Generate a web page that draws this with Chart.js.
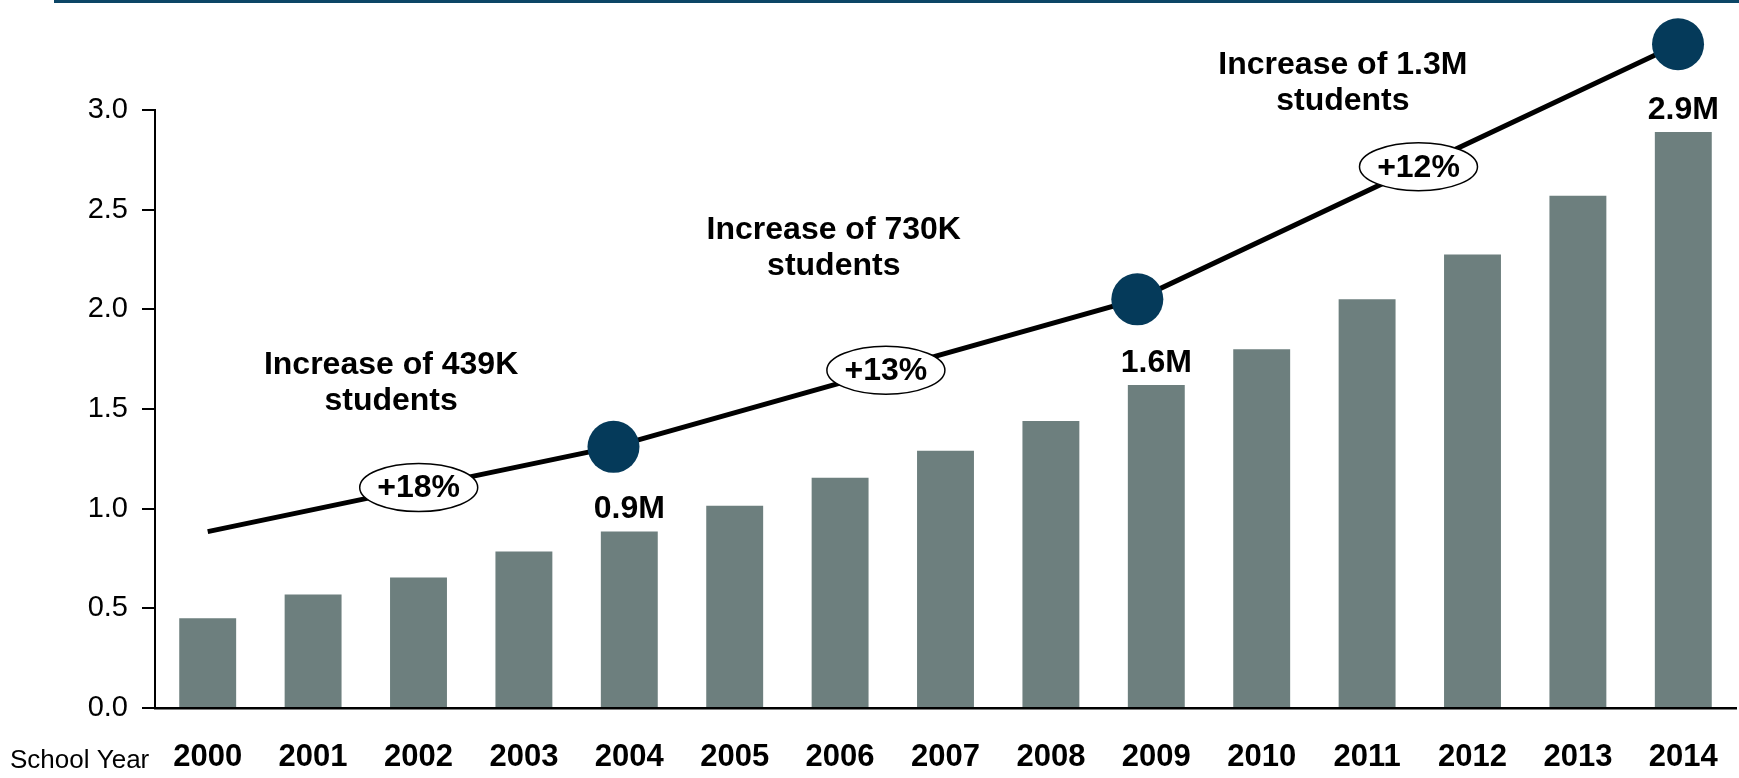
<!DOCTYPE html>
<html>
  <head>
    <title>Students by school year</title>
    <style>
      html, body { margin: 0; padding: 0; background: #fff; }
      #wrap { width: 1739px; height: 778px; position: relative; }
    </style>
  </head>
  <body>
    <div id="wrap"><canvas id="canvas"></canvas></div>

    <script src="https://cdn.jsdelivr.net/npm/chart.js@4/dist/chart.umd.min.js"></script>
    <script>
      // data (millions of students)
      const years = ["2000", "2001", "2002", "2003", "2004", "2005", "2006", "2007",
                     "2008", "2009", "2010", "2011", "2012", "2013", "2014"];
      const students = [0.45, 0.57, 0.655, 0.785, 0.885, 1.015, 1.155, 1.29,
                        1.44, 1.62, 1.80, 2.05, 2.275, 2.57, 2.89];
      const barLabels = [null, null, null, null, "0.9M", null, null, null,
                         null, "1.6M", null, null, null, null, "2.9M"];

      // trend line (category index, value)
      const trendX = [0, 3.85, 8.82, 13.95];
      const trendY = [0.885, 1.31, 2.05, 3.33];
      const trendDots = [false, true, true, true];
      const growthLabels = ["+18%", "+13%", "+12%"];
      const increaseLabels = [
        ["Increase of 439K", "students"],
        ["Increase of 730K", "students"],
        ["Increase of 1.3M", "students"],
      ];

      const FONT = "'Liberation Sans', Arial, Helvetica, sans-serif";
      Chart.defaults.font.family = FONT;
      Chart.defaults.color = "#000";

      // where the "Increase of..." notes sit, in (category, value) units
      const notesAt = [[1.74, 1.63], [5.94, 2.305], [10.77, 3.133]];

      const annotations = {
        id: "annotations",
        beforeDraw(chart) {
          const c = chart.ctx;
          c.save();
          c.fillStyle = "#0c4666";
          c.fillRect(54, 0, chart.width - 54, 3);
          c.restore();
        },
        afterDatasetsDraw(chart) {
          const c = chart.ctx;
          const xs = chart.scales.x2, ys = chart.scales.y;
          c.save();

          // value labels over bars
          const bars = chart.getDatasetMeta(0).data;
          c.font = "bold 32px " + FONT;
          c.fillStyle = "#000";
          c.textAlign = "center";
          c.textBaseline = "bottom";
          bars.forEach((b, i) => {
            if (barLabels[i]) c.fillText(barLabels[i], b.x, b.y - 6);
          });

          // dots on the trend line (the last one sits above the axis top)
          const pts = chart.getDatasetMeta(1).data;
          c.fillStyle = "#053a5a";
          pts.forEach((p, i) => {
            if (!trendDots[i]) return;
            c.beginPath();
            c.arc(p.x, p.y, 26, 0, Math.PI * 2);
            c.fill();
          });

          // growth ovals on the trend line
          growthLabels.forEach((txt, i) => {
            const p0 = pts[i], p1 = pts[i + 1];
            const t = 0.52;
            const cx = p0.x + (p1.x - p0.x) * t;
            const cy = p0.y + (p1.y - p0.y) * t;
            c.beginPath();
            c.ellipse(cx, cy, 59, 24, 0, 0, Math.PI * 2);
            c.fillStyle = "#fff";
            c.fill();
            c.lineWidth = 1.5;
            c.strokeStyle = "#000";
            c.stroke();
            c.fillStyle = "#000";
            c.font = "bold 32px " + FONT;
            c.textBaseline = "middle";
            c.fillText(txt, cx, cy + 1);
          });

          // "Increase of ..." notes
          c.font = "bold 32px " + FONT;
          c.textBaseline = "middle";
          increaseLabels.forEach((lines, i) => {
            const x = xs.getPixelForValue(notesAt[i][0]);
            const y = ys.getPixelForValue(notesAt[i][1]);
            c.fillText(lines[0], x, y - 18);
            c.fillText(lines[1], x, y + 18);
          });

          // axis caption
          c.textAlign = "left";
          c.font = "26px " + FONT;
          c.fillText("School Year", 10, 761);
          c.restore();
        },
      };

      const config = {
        type: "bar",
        data: {
          labels: years,
          datasets: [
            {
              label: "Students",
              data: students,
              backgroundColor: "#6d7f7e",
              categoryPercentage: 1,
              barPercentage: 0.54,
              grouped: false,
              xAxisID: "x",
              order: 1,
            },
            {
              type: "line",
              label: "Trend",
              data: trendX.map((x, i) => ({ x: x, y: trendY[i] })),
              xAxisID: "x2",
              borderColor: "#000",
              borderWidth: 5,
              pointRadius: 0,
              pointHoverRadius: 0,
              tension: 0,
              clip: false,
              order: 0,
            },
          ],
        },
        options: {
          responsive: true,
          maintainAspectRatio: false,
          animation: false,
          events: [],
          layout: { padding: { top: 110, right: 3, left: 0, bottom: 0 } },
          plugins: {
            legend: { display: false },
            tooltip: { enabled: false },
          },
          scales: {
            x: {
              type: "category",
              offset: true,
              grid: { display: false, drawTicks: false },
              border: { color: "#000", width: 2.5 },
              ticks: {
                font: { size: 31, weight: "bold" },
                color: "#000",
                padding: 31,
                autoSkip: false,
                maxRotation: 0,
              },
              afterFit: (s) => {
                s.height = 70;
                s.paddingLeft = 0;
                s.paddingRight = 0;
              },
            },
            x2: {
              type: "linear",
              display: false,
              offset: false,
              grid: { offset: false },
              min: -0.5,
              max: 14.5,
            },
            y: {
              min: 0,
              max: 3,
              ticks: {
                stepSize: 0.5,
                callback: (v) => v.toFixed(1),
                font: { size: 29 },
                color: "#000",
                padding: 14,
              },
              grid: {
                drawOnChartArea: false,
                drawTicks: true,
                tickLength: 13,
                color: "#000",
                lineWidth: 2,
              },
              border: { color: "#000", width: 2 },
              afterFit: (s) => { s.width = 155; },
            },
          },
        },
        plugins: [annotations],
      };

      const ctx = document.getElementById("canvas").getContext("2d");
      const chart = new Chart(ctx, config);
    </script>
  </body>
</html>
